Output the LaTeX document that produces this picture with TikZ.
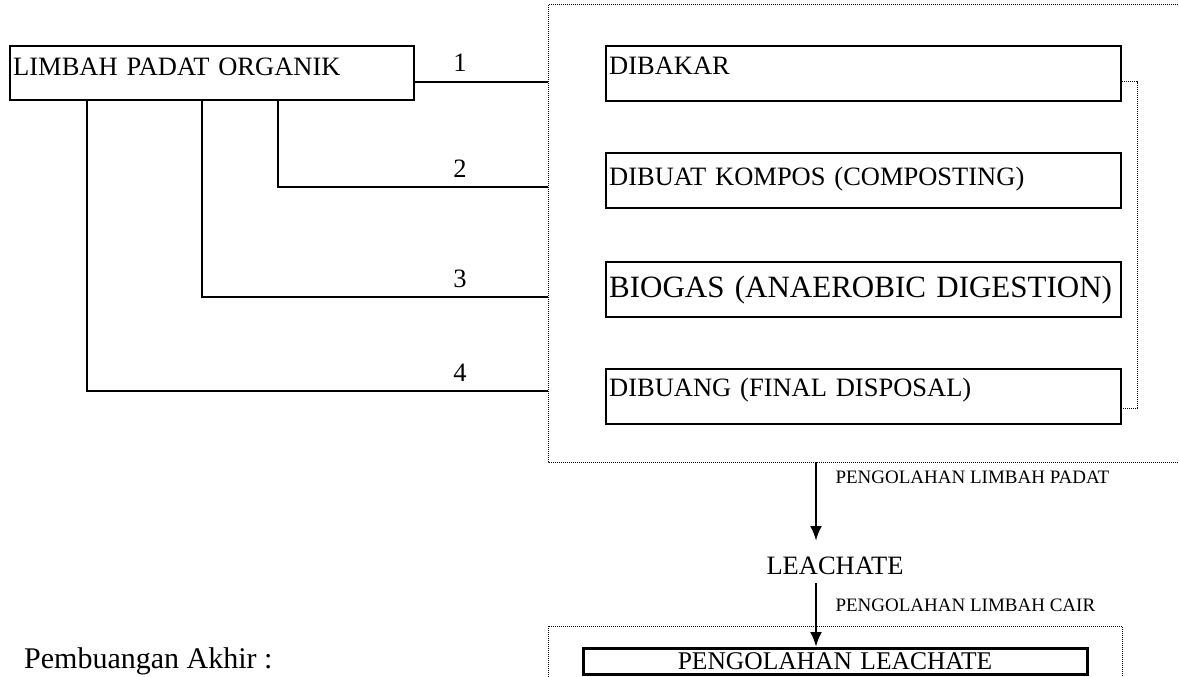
\documentclass[tikz,border=0pt]{standalone}
\usepackage{fontspec}
\setmainfont{Liberation Serif}
\usetikzlibrary{arrows.meta}
\tikzset{
  kotak/.style={draw, line width=2.4pt, anchor=north west, inner ysep=0pt, inner xsep=3pt, align=left, font=\fontsize{26.5}{30}\selectfont},
  garis/.style={line width=2.9pt},
  panah/.style={line width=2.5pt, -{Latex[length=15pt, width=12pt]}},
  titik/.style={densely dotted, line width=1pt},
  nomor/.style={font=\fontsize{26.5}{30}\selectfont, anchor=base, inner sep=0pt},
  kecil/.style={font=\fontsize{19}{22}\selectfont, anchor=west},
}

\begin{document}
\begin{tikzpicture}[x=1pt, y=-1pt]
  \clip (0,0) rectangle (1179,677);
  %%%%% START %%%%%
  % bingkai titik-titik
  \draw[titik] (1190,5) -- (548,5) -- (548,462) -- (1190,462);
  \coordinate (kiri) at (548,5);
  \draw[titik] (1122,690) -- (1122,626) -- (548,626) -- (548,690);

  \node[kotak, text width=398pt, text height=29pt, text depth=25pt] (limbah) at (9,45) {LIMBAH PADAT ORGANIK};

  \node[kotak, text width=509pt, text height=28pt, text depth=27pt] (bakar) at (605,45) {DIBAKAR};
  \node[kotak, text width=509pt, text height=32pt, text depth=23pt] (kompos) at (605,152) {DIBUAT KOMPOS (COMPOSTING)};
  \node[kotak, text width=509pt, text height=35pt, text depth=20pt, font=\fontsize{31}{34}\selectfont] (biogas) at (605,261) {\mbox{BIOGAS (ANAEROBIC DIGESTION)}};
  \node[kotak, text width=509pt, text height=27pt, text depth=28pt] (buang) at (605,368) {DIBUANG (FINAL DISPOSAL)};

  % kurung kanan
  \draw[titik] (bakar.east |- 0,82) -| (1137,408) -- (buang.east |- 0,408);

  % garis dari limbah
  \coordinate (a1) at (413,82);
  \draw[garis] (a1) -- (a1 -| kiri);
  \draw[garis] (278,99) |- (kiri |- 0,187);
  \draw[garis] (202,99) |- (kiri |- 0,297);
  \draw[garis] (87,99) |- (kiri |- 0,391);
  \foreach \n/\y in {1/82, 2/187, 3/297, 4/391}
    \node[nomor] (no\n) at (460,\y-10) {\n};

  % leachate
  \node[font=\fontsize{26.5}{30}\selectfont] (leachate) at (835,566) {LEACHATE};
  \node[kotak, anchor=north, line width=3pt, text width=498pt, align=center, text height=20.5pt, text depth=5pt, font=\fontsize{25.5}{28}\selectfont] (olah) at (835,647) {PENGOLAHAN LEACHATE};

  \draw[panah] (816,462) -- (816,541);
  \draw[panah] (816,583) -- (olah.north -| 816,0);
  \node[kecil] (padat) at (832,477) {PENGOLAHAN LIMBAH PADAT};
  \node[kecil] (cair) at (832,605) {PENGOLAHAN LIMBAH CAIR};

  \node[anchor=base west, font=\fontsize{30}{34}\selectfont, inner sep=0pt] (akhir) at (24,668) {Pembuangan Akhir :};
  %%%%% END %%%%%
\end{tikzpicture}
\end{document}
